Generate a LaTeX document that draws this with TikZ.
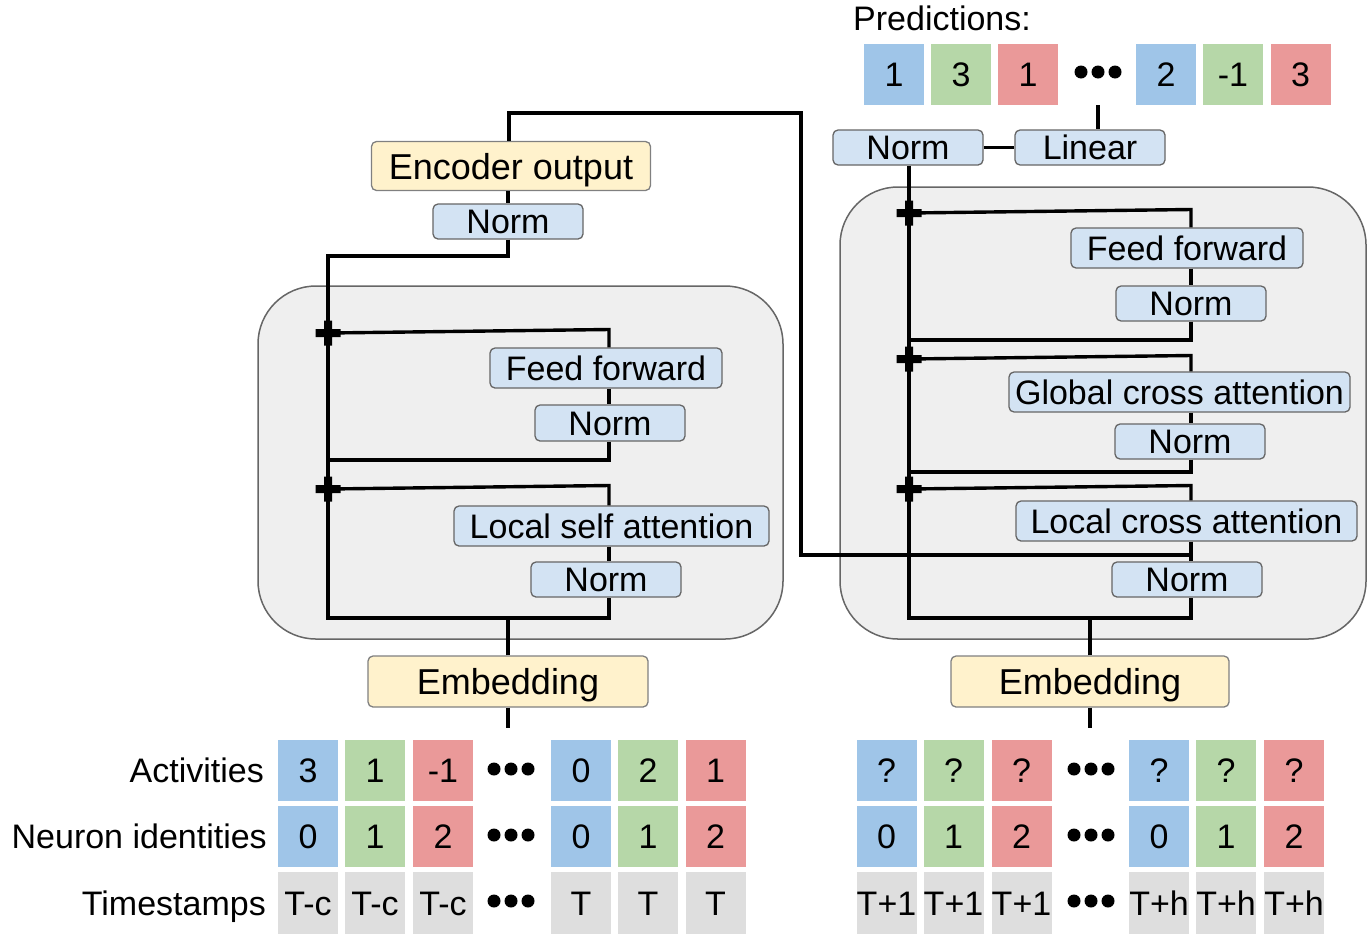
\documentclass[tikz,border=0pt]{standalone}
\usepackage{fontspec}
\setmainfont{Liberation Sans}
\usetikzlibrary{calc}
\definecolor{cblue}{HTML}{9FC5E8}
\definecolor{cgreen}{HTML}{B6D7A8}
\definecolor{cred}{HTML}{EA9999}
\definecolor{cgrey}{HTML}{DEDEDE}
\definecolor{nblue}{HTML}{D3E3F3}
\definecolor{nyel}{HTML}{FFF2CC}
\definecolor{bgbox}{HTML}{EFEFEF}
\newcommand\myfs{\fontsize{34}{40}\selectfont}
\newcommand\myfsb{\fontsize{36}{42}\selectfont}
\begin{document}
\begin{tikzpicture}[x=1pt,y=-1pt,
 txt/.style={inner sep=0pt, text height=24.5pt, text depth=0pt, font=\myfs},
 blk/.style={txt, draw=black!60, line width=1.3pt, fill=nblue, rounded corners=5pt},
 normbox/.style={blk, minimum width=150pt, minimum height=35pt},
 yel/.style={blk, fill=nyel, draw=black!50, font=\myfsb, text height=26pt},
 big/.style={draw=black!60, line width=1.5pt, fill=bgbox, rounded corners=58pt, inner sep=0pt},
 cell/.style={txt, minimum width=60pt, minimum height=61pt},
 wire/.style={line width=3.4pt},
 dot/.style={fill=black}]
\useasboundingbox (0,0) rectangle (1372,943);

% big boxes
\node[big, minimum width=525pt, minimum height=353pt] (encBox) at (520.5,462.5) {};
\node[big, minimum width=526pt, minimum height=452pt] (decBox) at (1103,413) {};

% ---------- left (encoder) ----------
\node[yel, minimum width=279pt, minimum height=49pt] (encL) at (511,166) {Encoder output};
\node[normbox] (nL0) at (508,221.5) {Norm};
\node[blk, minimum width=232pt, minimum height=40pt] (ffL) at (606,368) {Feed forward};
\node[normbox, minimum height=36pt] (nL1) at (610,423) {Norm};
\node[blk, minimum width=315pt, minimum height=40pt] (lsaL) at (611.5,526) {Local self attention};
\node[normbox] (nL2) at (606,579.5) {Norm};
\node[yel, minimum width=280pt, minimum height=51pt] (embL) at (508,681.5) {Embedding};

\coordinate (topL) at (328,256);
\coordinate (pL1) at (328,333);
\coordinate (rL1) at (609,329.5);
\coordinate (mL1) at (328,460);
\coordinate (pL2) at (328,489);
\coordinate (rL2) at (609,485.5);
\coordinate (bL0) at (328,618);
\coordinate (bL) at (609,618);
\coordinate (inL) at (508,728);
\coordinate (eUp) at (509,142);

\draw[wire] (nL0.north |- encL.south) -- (nL0.north);
\draw[wire] (nL0.south) |- (topL) -- (bL0) -- (bL) -- (bL |- nL2.south);
\draw[wire] (pL1) -- (rL1) -- (rL1 |- ffL.north);
\draw[wire] (ffL.south -| rL1) -- (nL1.north -| rL1);
\draw[wire] (nL1.south -| rL1) |- (mL1);
\draw[wire] (pL2) -- (rL2) -- (rL2 |- lsaL.north);
\draw[wire] (lsaL.south -| rL2) -- (nL2.north -| rL2);
\draw[wire] (embL.north) -- (embL.north |- bL);
\draw[wire] (embL.south) -- (inL);

% ---------- right (decoder) ----------
\node[normbox] (nR0) at (908,147.5) {Norm};
\node[normbox] (lin) at (1090,147.5) {Linear};
\node[blk, minimum width=232pt, minimum height=40pt] (ffR) at (1187,248) {Feed forward};
\node[normbox] (nR1) at (1191,303.5) {Norm};
\node[blk, minimum width=341pt, minimum height=40pt] (gca) at (1179.5,392) {Global cross attention};
\node[normbox] (nR2) at (1190,441.5) {Norm};
\node[blk, minimum width=341pt, minimum height=40pt] (lca) at (1186.5,521) {Local cross attention};
\node[normbox] (nR3) at (1187,579.5) {Norm};
\node[yel, minimum width=278pt, minimum height=51pt] (embR) at (1090,681.5) {Embedding};

\coordinate (pR1) at (909,213);
\coordinate (rR1) at (1191,209.5);
\coordinate (mR1) at (909,340);
\coordinate (pR2) at (909,359);
\coordinate (rR2) at (1191,355.5);
\coordinate (mR2) at (909,472);
\coordinate (pR3) at (909,489);
\coordinate (rR3) at (1191,485.5);
\coordinate (bR0) at (909,618);
\coordinate (bR) at (1191,618);
\coordinate (inR) at (1090,728);
\coordinate (eTop) at (801,113);
\coordinate (jR) at (1191,555);
\coordinate (dP) at (1098,72);
\coordinate (dPb) at (1098,105);

\draw[wire] (nR0.east) -- (lin.west);
\draw[wire] (dPb) -- (dPb |- lin.north);
\draw[wire] (nR0.south -| bR0) -- (bR0) -- (bR) -- (bR |- nR3.south);
\draw[wire] (pR1) -- (rR1) -- (rR1 |- ffR.north);
\draw[wire] (ffR.south -| rR1) -- (nR1.north -| rR1);
\draw[wire] (nR1.south -| rR1) |- (mR1);
\draw[wire] (pR2) -- (rR2) -- (rR2 |- gca.north);
\draw[wire] (gca.south -| rR2) -- (nR2.north -| rR2);
\draw[wire] (nR2.south -| rR2) |- (mR2);
\draw[wire] (pR3) -- (rR3) -- (rR3 |- lca.north);
\draw[wire] (lca.south -| rR3) -- (nR3.north -| rR3);
\draw[wire] (embR.north) -- (embR.north |- bR);
\draw[wire] (embR.south) -- (inR);
% encoder output to decoder
\draw[wire] (eUp |- encL.north) |- (eTop) |- (jR);

% plus marks
\foreach \p in {pL1,pL2,pR1,pR2,pR3}
  \fill[shift={(\p)}] (-12.5,-4) rectangle (12.5,4) (-4,-12.5) rectangle (4,12.5);

% ---------- predictions ----------
\node[txt, anchor=west] (predT) at (853,18) {Predictions:};
\foreach \x/\c/\t [count=\i] in {894/cblue/1, 961/cgreen/3, 1028/cred/1, 1166/cblue/2, 1233/cgreen/-1, 1300.5/cred/3}
  \node[cell, fill=\c] (pr\i) at (\x,74.5) {\t};
\foreach \dx in {-17,0,17} \fill ([xshift=\dx pt]dP) circle (6.5pt);

% ---------- input grids ----------
\node[txt, anchor=east] (labA) at (264,770.5) {Activities};
\node[txt, anchor=east] (labN) at (267,836.5) {Neuron identities};
\node[txt, anchor=east] (labT) at (266,903) {Timestamps};

\foreach \x/\c/\t [count=\i] in {308/cblue/3, 375/cgreen/1, 443/cred/-1, 581/cblue/0, 648/cgreen/2, 715.5/cred/1}
  \node[cell, fill=\c] (aL\i) at (\x,770.5) {\t};
\foreach \x/\c/\t [count=\i] in {308/cblue/0, 375/cgreen/1, 443/cred/2, 581/cblue/0, 648/cgreen/1, 715.5/cred/2}
  \node[cell, fill=\c] (nL\i) at (\x,836.5) {\t};
\foreach \x/\t [count=\i] in {308/T-c, 375/T-c, 443/T-c, 581/T, 648/T, 715.5/T}
  \node[cell, fill=cgrey, minimum height=62pt] (tL\i) at (\x,903) {\t};

\foreach \x/\c/\t [count=\i] in {886.5/cblue/?, 953.5/cgreen/?, 1021.5/cred/?, 1159/cblue/?, 1226/cgreen/?, 1294/cred/?}
  \node[cell, fill=\c] (aR\i) at (\x,770.5) {\t};
\foreach \x/\c/\t [count=\i] in {886.5/cblue/0, 953.5/cgreen/1, 1021.5/cred/2, 1159/cblue/0, 1226/cgreen/1, 1294/cred/2}
  \node[cell, fill=\c] (nRr\i) at (\x,836.5) {\t};
\foreach \x/\t [count=\i] in {886.5/T+1, 953.5/T+1, 1021.5/T+1, 1159/T+h, 1226/T+h, 1294/T+h}
  \node[cell, fill=cgrey, minimum height=62pt] (tR\i) at (\x,903) {\t};

\foreach \y in {769,835,901}{
  \foreach \dx in {-17,0,17} {
    \fill (511+\dx,\y) circle (6.5pt);
    \fill (1091+\dx,\y) circle (6.5pt);
  }
}
\end{tikzpicture}
\end{document}
